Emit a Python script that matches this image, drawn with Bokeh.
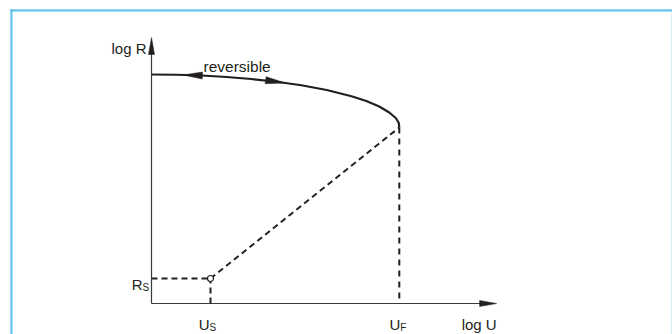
import numpy as np
from bokeh.plotting import figure
from bokeh.models import Range1d, BoxAnnotation
from bokeh.core.properties import value
from bokeh.embed import file_html
from bokeh.resources import INLINE

# ---- data (schematic log units) ----
U_S = 1.0            # log U_S
U_F = 4.2            # log U_F
R_S = 1.0            # log R_S
U_AXIS_END = 5.85    # end of log U axis
R_AXIS_END = 10.64   # end of log R axis

curve_logU = [0.0, 0.42, 0.85, 1.27, 1.69, 2.12, 2.54, 2.97, 3.39, 3.64, 3.86, 4.03, 4.14, 4.19, 4.2]
curve_logR = [9.16, 9.15, 9.12, 9.06, 8.98, 8.87, 8.73, 8.54, 8.29, 8.10, 7.88, 7.64, 7.42, 7.23, 7.04]
R_F = curve_logR[-1]

arrow_left_at = 0.54   # position of the "back" arrow on the curve (log U)
arrow_right_at = 2.27  # position of the "forward" arrow on the curve (log U)

# ---- figure ----
W, H = 672, 334
x0 = -151 / 59.0
y0 = -31 / 25.0
x1 = x0 + W / 59.0
y1 = y0 + H / 25.0
PX_X = W / (x1 - x0)
PX_Y = H / (y1 - y0)

p = figure(width=W, height=H, output_backend="svg", toolbar_location=None,
           x_axis_type=None, y_axis_type=None,
           x_range=Range1d(x0, x1), y_range=Range1d(y0, y1),
           min_border=0, min_border_left=0, min_border_right=0,
           min_border_top=0, min_border_bottom=0)
p.outline_line_color = None
p.background_fill_color = "white"
p.border_fill_color = "white"

INK = "#231f20"
AX = "#3a3a3a"
FONT = value("Liberation Sans")

# frame border (light blue box, open at the bottom)
def sbox(l, r, b, t, color):
    p.add_layout(BoxAnnotation(left=l, right=r, bottom=b, top=t,
                               left_units="screen", right_units="screen",
                               bottom_units="screen", top_units="screen",
                               fill_color=color, fill_alpha=1.0, line_color=None,
                               level="underlay"))

sbox(10, 11, -5, H - 9, "#2a9fd8")
sbox(11, 12, -5, H - 10, "#40c0ee")
sbox(10, W + 5, H - 10, H - 9, "#2a9fd8")
sbox(11, W + 5, H - 11, H - 10, "#40c0ee")
sbox(W - 1, W, -5, H - 11, "#b7dff3")


def head(tx, ty, dx, dy, L, Wd):
    n = np.hypot(dx, dy)
    dx, dy = dx / n, dy / n
    bx, by = -L * dx, -L * dy
    px, py = -dy * Wd / 2, dx * Wd / 2
    xs = [tx, tx + (bx + px) / PX_X, tx + (bx - px) / PX_X]
    ys = [ty, ty + (by + py) / PX_Y, ty + (by - py) / PX_Y]
    return xs, ys


# axes
p.line([0, 0], [0, R_AXIS_END - 0.3], line_color=AX, line_width=1.2)
p.line([0, U_AXIS_END - 0.2], [0, 0], line_color=AX, line_width=1.2)
hx1, hy1 = head(0, R_AXIS_END, 0, 1, 17, 6)
hx2, hy2 = head(U_AXIS_END, 0, 1, 0, 17, 6)
p.patches([hx1, hx2], [hy1, hy2], fill_color=INK, line_color=INK, line_width=0.5)

# dashed construction lines
DASH = "6 4"
p.line([0, U_S], [R_S, R_S], line_color=INK, line_width=2, line_dash=DASH)
p.line([U_S, U_S], [0, R_S], line_color=INK, line_width=2, line_dash=DASH)
p.line([U_S, U_F], [R_S, R_F], line_color=INK, line_width=2, line_dash=DASH)
p.line([U_F, U_F], [R_F, 0], line_color=INK, line_width=2, line_dash="6 5")

# main curve
p.line(curve_logU, curve_logR, line_color=INK, line_width=2.2)

# arrows on the curve
def r_at(u):
    return float(np.interp(u, curve_logU, curve_logR))

d = 0.1
ax1, ay1 = head(arrow_left_at, r_at(arrow_left_at),
                -d * PX_X, (r_at(arrow_left_at - d) - r_at(arrow_left_at)) * PX_Y, 19, 7)
ax2, ay2 = head(arrow_right_at, r_at(arrow_right_at),
                d * PX_X, (r_at(arrow_right_at) - r_at(arrow_right_at - d)) * PX_Y, 20, 7)
p.patches([ax1, ax2], [ay1, ay2], fill_color=INK, line_color=INK, line_width=0.5)

# open circle at (U_S, R_S)
p.scatter([U_S], [R_S], marker="circle", size=6, fill_color="white",
          line_color=INK, line_width=1.2)

# labels
TS = "15px"
SUB = "10px"
p.text([0], [R_AXIS_END], text=["log R"], text_align="right", text_baseline="alphabetic",
       x_offset=-5, y_offset=11, text_font=FONT, text_font_size=TS, text_color=INK)
p.text([0], [curve_logR[0]], text=["reversible"], text_align="left", text_baseline="alphabetic",
       x_offset=52, y_offset=-8, text_font=FONT, text_font_size="15.5px", text_color=INK)
# R_S
p.text([0], [R_S], text=["R"], text_align="right", text_baseline="alphabetic",
       x_offset=-9, y_offset=6, text_font=FONT, text_font_size=TS, text_color=INK)
p.text([0], [R_S], text=["S"], text_align="left", text_baseline="alphabetic",
       x_offset=-9, y_offset=9, text_font=FONT, text_font_size=SUB, text_color=INK)
# U_S, U_F
p.text([U_S, U_F], [0, 0], text=["U", "U"], text_align="right", text_baseline="alphabetic",
       x_offset=[-1, 1], y_offset=21, text_font=FONT, text_font_size=TS, text_color=INK)
p.text([U_S, U_F], [0, 0], text=["S", "F"], text_align="left", text_baseline="alphabetic",
       x_offset=[-1, 1], y_offset=24, text_font=FONT, text_font_size=SUB, text_color=INK)
# log U
p.text([U_AXIS_END], [0], text=["log U"], text_align="right", text_baseline="alphabetic",
       x_offset=0, y_offset=21, text_font=FONT, text_font_size=TS, text_color=INK)

open("out.html", "w").write(file_html(p, INLINE))
